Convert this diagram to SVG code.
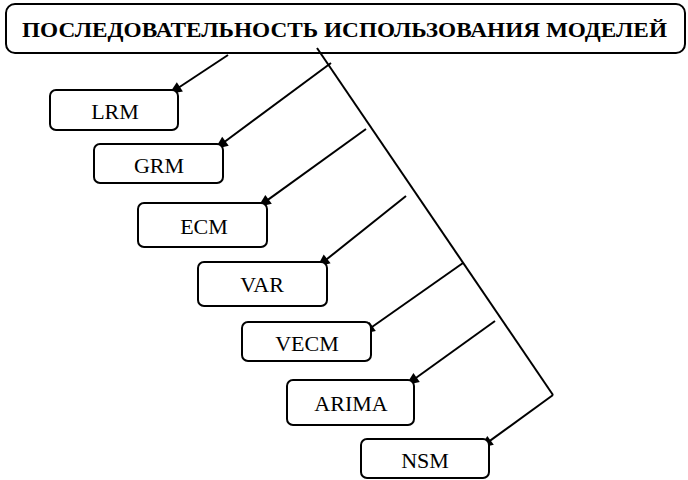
<svg xmlns="http://www.w3.org/2000/svg" width="688" height="480" viewBox="0 0 688 480">
<style>
.box{fill:#fff;stroke:#000;stroke-width:2}
.c{fill:none;stroke:#000;stroke-width:2}
.ah{fill:#000;stroke:none}
</style>
<g id="title">
<rect class="box" x="6" y="4" width="679" height="49" rx="9" stroke-width="2.5"/>
<text x="22" y="37" font-family="Liberation Serif, Times New Roman, DejaVu Serif, serif" font-size="22" font-weight="bold" textLength="645" lengthAdjust="spacingAndGlyphs">ПОСЛЕДОВАТЕЛЬНОСТЬ ИСПОЛЬЗОВАНИЯ МОДЕЛЕЙ</text>
</g>
<g id="connectors">
<line class="c" x1="317" y1="48" x2="553" y2="395"/>
<line class="c" x1="228" y1="55" x2="177.3" y2="88.5"/>
<polygon class="ah" points="169,94 182.9,91.4 176.8,82.2"/>
<line class="c" x1="331" y1="63" x2="223" y2="143"/>
<polygon class="ah" points="215,149 228.7,145.7 222.2,136.8"/>
<line class="c" x1="366" y1="129" x2="266.1" y2="201.1"/>
<polygon class="ah" points="258,207 271.8,203.8 265.3,194.9"/>
<line class="c" x1="406" y1="196" x2="324.8" y2="260.8"/>
<polygon class="ah" points="317,267 330.6,263.2 323.7,254.6"/>
<line class="c" x1="463" y1="263" x2="370.2" y2="328.2"/>
<polygon class="ah" points="362,334 375.8,331 369.5,322"/>
<line class="c" x1="495" y1="321" x2="414.1" y2="379.2"/>
<polygon class="ah" points="406,385 419.8,381.9 413.4,372.9"/>
<line class="c" x1="553" y1="395" x2="488.1" y2="442.1"/>
<polygon class="ah" points="480,448 493.8,444.8 487.3,435.9"/>
</g>
<g id="lrm">
<rect class="box" x="50" y="90" width="128" height="40" rx="6"/>
<text x="115" y="119" font-family="Liberation Serif, Times New Roman, DejaVu Serif, serif" font-size="22" text-anchor="middle">LRM</text>
</g>
<g id="grm">
<rect class="box" x="94" y="144" width="129" height="39" rx="6"/>
<text x="159" y="173" font-family="Liberation Serif, Times New Roman, DejaVu Serif, serif" font-size="22" text-anchor="middle">GRM</text>
</g>
<g id="ecm">
<rect class="box" x="138" y="203" width="129" height="44" rx="6"/>
<text x="204" y="234" font-family="Liberation Serif, Times New Roman, DejaVu Serif, serif" font-size="22" text-anchor="middle">ECM</text>
</g>
<g id="var">
<rect class="box" x="198" y="262" width="129" height="44" rx="6"/>
<text x="262" y="292" font-family="Liberation Serif, Times New Roman, DejaVu Serif, serif" font-size="22" text-anchor="middle">VAR</text>
</g>
<g id="vecm">
<rect class="box" x="242" y="322" width="129" height="39" rx="6"/>
<text x="307" y="351" font-family="Liberation Serif, Times New Roman, DejaVu Serif, serif" font-size="22" text-anchor="middle">VECM</text>
</g>
<g id="arima">
<rect class="box" x="287" y="380" width="127" height="45" rx="6"/>
<text x="351" y="411" font-family="Liberation Serif, Times New Roman, DejaVu Serif, serif" font-size="22" text-anchor="middle">ARIMA</text>
</g>
<g id="nsm">
<rect class="box" x="361" y="439" width="128" height="39" rx="6"/>
<text x="425" y="468" font-family="Liberation Serif, Times New Roman, DejaVu Serif, serif" font-size="22" text-anchor="middle">NSM</text>
</g>
</svg>
